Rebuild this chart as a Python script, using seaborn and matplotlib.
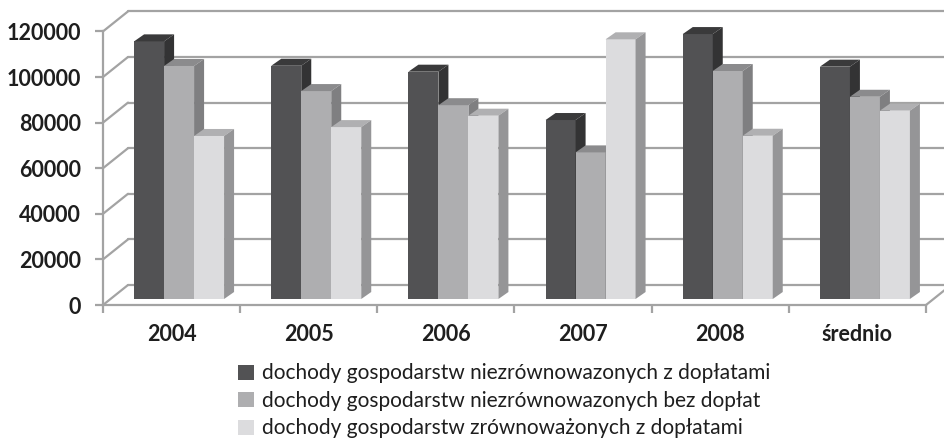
import numpy as np
import pandas as pd
import matplotlib
matplotlib.use("Agg")
import matplotlib.pyplot as plt
import matplotlib.colors as mcolors
from matplotlib.patches import Polygon, Patch
from matplotlib.transforms import Affine2D
import seaborn as sns

# data
years = ["2004", "2005", "2006", "2007", "2008", "średnio"]
series_names = [
    "dochody gospodarstw niezrównowazonych z dopłatami",
    "dochody gospodarstw niezrównowazonych bez dopłat",
    "dochody gospodarstw zrównoważonych z dopłatami",
]
with_subsidies = [113000, 102300, 99700, 78500, 116200, 101900]
without_subsidies = [102200, 91200, 85000, 64300, 100000, 88700]
sustainable = [71500, 75400, 80400, 113900, 71600, 82600]
y_ticks = [0, 20000, 40000, 60000, 80000, 100000, 120000]

front_colors = ["#525254", "#aeaeb0", "#dcdcde"]
top_colors = ["#3a3a3b", "#8b8b8d", "#b0b0b2"]
side_colors = ["#333334", "#7f7f81", "#959597"]
line_color = "#a3a3a3"

df = pd.DataFrame({
    "year": years * 3,
    "value": with_subsidies + without_subsidies + sustainable,
    "series": [series_names[0]] * 6 + [series_names[1]] * 6 + [series_names[2]] * 6,
})

sns.set_theme(style="white")
plt.rcParams["font.family"] = ["Lato", "DejaVu Sans"]

W, H = 945, 440
fig = plt.figure(figsize=(W / 100, H / 100), dpi=100)
ax_w, ax_h = 823, 273.6
ax = fig.add_axes([103 / W, 135 / H, ax_w / W, ax_h / H])

sns.barplot(data=df, x="year", y="value", hue="series", palette=front_colors,
            width=0.656, saturation=1, linewidth=0, legend=False, ax=ax)

ax.set_xlim(-0.5, 5.5)
ax.set_ylim(0, 120000)

# pixel -> data conversion
ppx = ax_w / 6
ppy = ax_h / 120000


def off(px, py):
    return px / ppx, py / ppy


# wall / floor depth
wdx, wdy = off(25, 20)
x0, x1 = -0.5, 5.5
for v in y_ticks:
    ax.plot([x0 + wdx, x1 + wdx], [v + wdy, v + wdy], color=line_color, lw=1.6,
            clip_on=False, zorder=1)
    ax.plot([x0, x0 + wdx], [v, v + wdy], color=line_color, lw=1.6,
            clip_on=False, zorder=1)
ax.plot([x1, x1 + wdx], [0, wdy], color=line_color, lw=1.6, clip_on=False, zorder=1)

# bars sit part way into the floor, with their own depth
fdx, fdy = wdx * 0.3, wdy * 0.3
bdx, bdy = off(10, 7)

bars = sorted(ax.patches, key=lambda p: p.get_x())
for i, p in enumerate(bars):
    k = [mcolors.to_hex(c) for c in front_colors].index(mcolors.to_hex(p.get_facecolor()))
    x, w, h = p.get_x() + fdx, p.get_width(), p.get_height() + fdy
    b = fdy
    z = 3 + i * 0.01
    p.set_transform(Affine2D().translate(fdx, fdy) + ax.transData)
    p.set_zorder(z)
    top = Polygon([(x, h), (x + w, h), (x + w + bdx, h + bdy), (x + bdx, h + bdy)],
                  closed=True, fc=top_colors[k], lw=0, zorder=z + 0.001, clip_on=False)
    side = Polygon([(x + w, b), (x + w, h), (x + w + bdx, h + bdy), (x + w + bdx, b + bdy)],
                   closed=True, fc=side_colors[k], lw=0, zorder=z + 0.002, clip_on=False)
    ax.add_patch(top)
    ax.add_patch(side)

# axes styling
for s in ["top", "right"]:
    ax.spines[s].set_visible(False)
for s in ["left", "bottom"]:
    ax.spines[s].set_color(line_color)
    ax.spines[s].set_linewidth(1.6)
    ax.spines[s].set_zorder(2)

ax.set_yticks(y_ticks)
ax.set_yticklabels([str(v) for v in y_ticks])
ax.set_xticks(range(len(years)))
ax.set_xticklabels(years)
ax.set_xticks(np.arange(-0.5, 6, 1), minor=True)
ax.tick_params(axis="y", which="major", left=True, length=6, width=1.6,
               color=line_color, pad=10, labelsize=15.5, labelcolor="#1e1e1e")
ax.tick_params(axis="x", which="major", bottom=False, length=0, pad=14,
               labelsize=15.5, labelcolor="#1e1e1e")
ax.tick_params(axis="x", which="minor", bottom=True, length=6, width=1.6,
               color=line_color)
for t in ax.get_xticklabels() + ax.get_yticklabels():
    t.set_fontweight("bold")
ax.set_xlabel("")
ax.set_ylabel("")
ax.grid(False)

handles = [Patch(facecolor=c, edgecolor="none") for c in front_colors]
fig.legend(handles, series_names, loc="upper left",
           bbox_to_anchor=(228 / W, 1 - 353 / H), frameon=False,
           fontsize=15, handlelength=0.75, handleheight=0.75,
           handletextpad=0.4, labelspacing=0.36, borderpad=0,
           labelcolor="#1e1e1e")

fig.savefig("out.png", dpi=100)
